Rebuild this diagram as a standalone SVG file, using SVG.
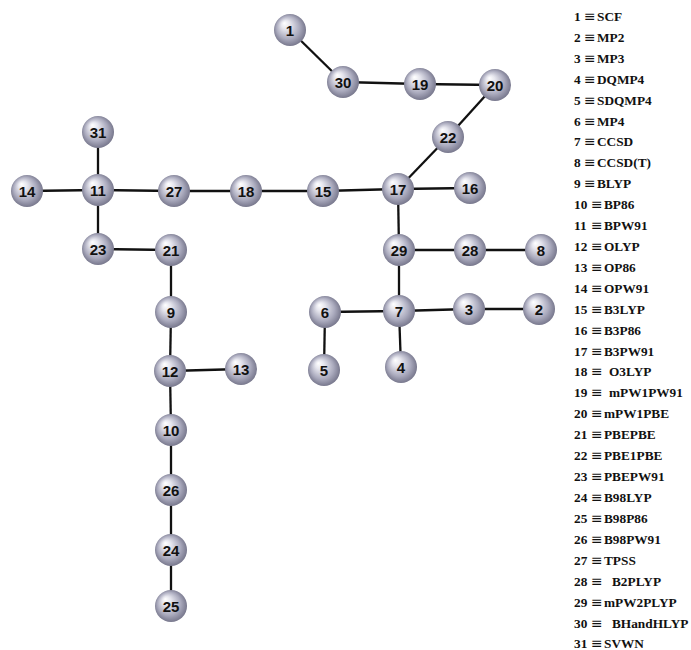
<svg xmlns="http://www.w3.org/2000/svg" width="691" height="650" viewBox="0 0 691 650">
  <defs>
    <radialGradient id="ball" cx="0.5" cy="0.5" r="0.55" fx="0.32" fy="0.28">
      <stop offset="0" stop-color="#ffffff"/>
      <stop offset="0.25" stop-color="#e6e6ee"/>
      <stop offset="0.65" stop-color="#ababbe"/>
      <stop offset="0.9" stop-color="#7e7e93"/>
      <stop offset="1" stop-color="#6c6c80"/>
    </radialGradient>
  </defs>
  <style>
    .edge { stroke: #111; stroke-width: 2.3; fill: none; }
    .ball { fill: url(#ball); }
    .num { font-family: "Liberation Sans", Arial, sans-serif; font-weight: bold; font-size: 15px; fill: #111; text-anchor: middle; }
    .key { font-family: "Liberation Serif", "Times New Roman", serif; font-weight: bold; font-size: 13.3px; fill: #111; }
    .eq { font-family: "DejaVu Serif", "Liberation Serif", serif; font-weight: normal; font-size: 14px; }
  </style>
  <rect width="691" height="650" fill="#ffffff"/>

  <g id="connectors">
    <line class="edge" x1="290" y1="30" x2="343" y2="82"/>
    <line class="edge" x1="343" y1="82" x2="420" y2="84"/>
    <line class="edge" x1="420" y1="84" x2="495" y2="85"/>
    <line class="edge" x1="495" y1="85" x2="448" y2="137"/>
    <line class="edge" x1="448" y1="137" x2="398" y2="189"/>
    <line class="edge" x1="398" y1="189" x2="470" y2="188"/>
    <line class="edge" x1="398" y1="189" x2="323" y2="191"/>
    <line class="edge" x1="323" y1="191" x2="246" y2="191"/>
    <line class="edge" x1="246" y1="191" x2="174" y2="191"/>
    <line class="edge" x1="174" y1="191" x2="98" y2="190"/>
    <line class="edge" x1="98" y1="190" x2="27" y2="191"/>
    <line class="edge" x1="98" y1="190" x2="98" y2="132"/>
    <line class="edge" x1="98" y1="190" x2="98" y2="249"/>
    <line class="edge" x1="98" y1="249" x2="171" y2="250"/>
    <line class="edge" x1="171" y1="250" x2="171" y2="312"/>
    <line class="edge" x1="171" y1="312" x2="170" y2="371"/>
    <line class="edge" x1="170" y1="371" x2="241" y2="369"/>
    <line class="edge" x1="170" y1="371" x2="171" y2="430"/>
    <line class="edge" x1="171" y1="430" x2="171" y2="490"/>
    <line class="edge" x1="171" y1="490" x2="171" y2="550"/>
    <line class="edge" x1="171" y1="550" x2="171" y2="606"/>
    <line class="edge" x1="398" y1="189" x2="399" y2="250"/>
    <line class="edge" x1="399" y1="250" x2="470" y2="250"/>
    <line class="edge" x1="470" y1="250" x2="541" y2="250"/>
    <line class="edge" x1="399" y1="250" x2="399" y2="311"/>
    <line class="edge" x1="399" y1="311" x2="325" y2="312"/>
    <line class="edge" x1="325" y1="312" x2="324" y2="370"/>
    <line class="edge" x1="399" y1="311" x2="401" y2="367"/>
    <line class="edge" x1="399" y1="311" x2="469" y2="309"/>
    <line class="edge" x1="469" y1="309" x2="539" y2="309"/>
  </g>

  <g id="n1"><circle class="ball" cx="290" cy="30" r="16"/><text class="num" x="290" y="35.5">1</text></g>
  <g id="n2"><circle class="ball" cx="539" cy="309" r="16"/><text class="num" x="539" y="314.5">2</text></g>
  <g id="n3"><circle class="ball" cx="469" cy="309" r="16"/><text class="num" x="469" y="314.5">3</text></g>
  <g id="n4"><circle class="ball" cx="401" cy="367" r="16"/><text class="num" x="401" y="372.5">4</text></g>
  <g id="n5"><circle class="ball" cx="324" cy="370" r="16"/><text class="num" x="324" y="375.5">5</text></g>
  <g id="n6"><circle class="ball" cx="325" cy="312" r="16"/><text class="num" x="325" y="317.5">6</text></g>
  <g id="n7"><circle class="ball" cx="399" cy="311" r="16"/><text class="num" x="399" y="316.5">7</text></g>
  <g id="n8"><circle class="ball" cx="541" cy="250" r="16"/><text class="num" x="541" y="255.5">8</text></g>
  <g id="n9"><circle class="ball" cx="171" cy="312" r="16"/><text class="num" x="171" y="317.5">9</text></g>
  <g id="n10"><circle class="ball" cx="171" cy="430" r="16"/><text class="num" x="171" y="435.5">10</text></g>
  <g id="n11"><circle class="ball" cx="98" cy="190" r="16"/><text class="num" x="98" y="195.5">11</text></g>
  <g id="n12"><circle class="ball" cx="170" cy="371" r="16"/><text class="num" x="170" y="376.5">12</text></g>
  <g id="n13"><circle class="ball" cx="241" cy="369" r="16"/><text class="num" x="241" y="374.5">13</text></g>
  <g id="n14"><circle class="ball" cx="27" cy="191" r="16"/><text class="num" x="27" y="196.5">14</text></g>
  <g id="n15"><circle class="ball" cx="323" cy="191" r="16"/><text class="num" x="323" y="196.5">15</text></g>
  <g id="n16"><circle class="ball" cx="470" cy="188" r="16"/><text class="num" x="470" y="193.5">16</text></g>
  <g id="n17"><circle class="ball" cx="398" cy="189" r="16"/><text class="num" x="398" y="194.5">17</text></g>
  <g id="n18"><circle class="ball" cx="246" cy="191" r="16"/><text class="num" x="246" y="196.5">18</text></g>
  <g id="n19"><circle class="ball" cx="420" cy="84" r="16"/><text class="num" x="420" y="89.5">19</text></g>
  <g id="n20"><circle class="ball" cx="495" cy="85" r="16"/><text class="num" x="495" y="90.5">20</text></g>
  <g id="n21"><circle class="ball" cx="171" cy="250" r="16"/><text class="num" x="171" y="255.5">21</text></g>
  <g id="n22"><circle class="ball" cx="448" cy="137" r="16"/><text class="num" x="448" y="142.5">22</text></g>
  <g id="n23"><circle class="ball" cx="98" cy="249" r="16"/><text class="num" x="98" y="254.5">23</text></g>
  <g id="n24"><circle class="ball" cx="171" cy="550" r="16"/><text class="num" x="171" y="555.5">24</text></g>
  <g id="n25"><circle class="ball" cx="171" cy="606" r="16"/><text class="num" x="171" y="611.5">25</text></g>
  <g id="n26"><circle class="ball" cx="171" cy="490" r="16"/><text class="num" x="171" y="495.5">26</text></g>
  <g id="n27"><circle class="ball" cx="174" cy="191" r="16"/><text class="num" x="174" y="196.5">27</text></g>
  <g id="n28"><circle class="ball" cx="470" cy="250" r="16"/><text class="num" x="470" y="255.5">28</text></g>
  <g id="n29"><circle class="ball" cx="399" cy="250" r="16"/><text class="num" x="399" y="255.5">29</text></g>
  <g id="n30"><circle class="ball" cx="343" cy="82" r="16"/><text class="num" x="343" y="87.5">30</text></g>
  <g id="n31"><circle class="ball" cx="98" cy="132" r="16"/><text class="num" x="98" y="137.5">31</text></g>

  <!-- key: index, identity sign, method name -->
  <g id="legend" class="key">
    <text y="21"><tspan x="574">1</tspan><tspan class="eq" x="584">≡</tspan><tspan x="597">SCF</tspan></text>
    <text y="42"><tspan x="574">2</tspan><tspan class="eq" x="584">≡</tspan><tspan x="597">MP2</tspan></text>
    <text y="63"><tspan x="574">3</tspan><tspan class="eq" x="584">≡</tspan><tspan x="597">MP3</tspan></text>
    <text y="84"><tspan x="574">4</tspan><tspan class="eq" x="584">≡</tspan><tspan x="597">DQMP4</tspan></text>
    <text y="105"><tspan x="574">5</tspan><tspan class="eq" x="584">≡</tspan><tspan x="597">SDQMP4</tspan></text>
    <text y="126"><tspan x="574">6</tspan><tspan class="eq" x="584">≡</tspan><tspan x="597">MP4</tspan></text>
    <text y="146"><tspan x="574">7</tspan><tspan class="eq" x="584">≡</tspan><tspan x="597">CCSD</tspan></text>
    <text y="167"><tspan x="574">8</tspan><tspan class="eq" x="584">≡</tspan><tspan x="597">CCSD(T)</tspan></text>
    <text y="188"><tspan x="574">9</tspan><tspan class="eq" x="584">≡</tspan><tspan x="597">BLYP</tspan></text>
    <text y="209"><tspan x="574">10</tspan><tspan class="eq" x="591">≡</tspan><tspan x="604">BP86</tspan></text>
    <text y="230"><tspan x="574">11</tspan><tspan class="eq" x="591">≡</tspan><tspan x="604">BPW91</tspan></text>
    <text y="251"><tspan x="574">12</tspan><tspan class="eq" x="591">≡</tspan><tspan x="604">OLYP</tspan></text>
    <text y="272"><tspan x="574">13</tspan><tspan class="eq" x="591">≡</tspan><tspan x="604">OP86</tspan></text>
    <text y="293"><tspan x="574">14</tspan><tspan class="eq" x="591">≡</tspan><tspan x="604">OPW91</tspan></text>
    <text y="314"><tspan x="574">15</tspan><tspan class="eq" x="591">≡</tspan><tspan x="604">B3LYP</tspan></text>
    <text y="335"><tspan x="574">16</tspan><tspan class="eq" x="591">≡</tspan><tspan x="604">B3P86</tspan></text>
    <text y="356"><tspan x="574">17</tspan><tspan class="eq" x="591">≡</tspan><tspan x="604">B3PW91</tspan></text>
    <text y="376"><tspan x="574">18</tspan><tspan class="eq" x="591">≡</tspan><tspan x="609">O3LYP</tspan></text>
    <text y="397"><tspan x="574">19</tspan><tspan class="eq" x="591">≡</tspan><tspan x="609">mPW1PW91</tspan></text>
    <text y="418"><tspan x="574">20</tspan><tspan class="eq" x="591">≡</tspan><tspan x="604">mPW1PBE</tspan></text>
    <text y="439"><tspan x="574">21</tspan><tspan class="eq" x="591">≡</tspan><tspan x="604">PBEPBE</tspan></text>
    <text y="460"><tspan x="574">22</tspan><tspan class="eq" x="591">≡</tspan><tspan x="604">PBE1PBE</tspan></text>
    <text y="481"><tspan x="574">23</tspan><tspan class="eq" x="591">≡</tspan><tspan x="604">PBEPW91</tspan></text>
    <text y="502"><tspan x="574">24</tspan><tspan class="eq" x="591">≡</tspan><tspan x="604">B98LYP</tspan></text>
    <text y="523"><tspan x="574">25</tspan><tspan class="eq" x="591">≡</tspan><tspan x="604">B98P86</tspan></text>
    <text y="544"><tspan x="574">26</tspan><tspan class="eq" x="591">≡</tspan><tspan x="604">B98PW91</tspan></text>
    <text y="565"><tspan x="574">27</tspan><tspan class="eq" x="591">≡</tspan><tspan x="604">TPSS</tspan></text>
    <text y="586"><tspan x="574">28</tspan><tspan class="eq" x="591">≡</tspan><tspan x="612">B2PLYP</tspan></text>
    <text y="607"><tspan x="574">29</tspan><tspan class="eq" x="591">≡</tspan><tspan x="604">mPW2PLYP</tspan></text>
    <text y="628"><tspan x="574">30</tspan><tspan class="eq" x="591">≡</tspan><tspan x="612">BHandHLYP</tspan></text>
    <text y="648"><tspan x="574">31</tspan><tspan class="eq" x="591">≡</tspan><tspan x="604">SVWN</tspan></text>
  </g>
</svg>
